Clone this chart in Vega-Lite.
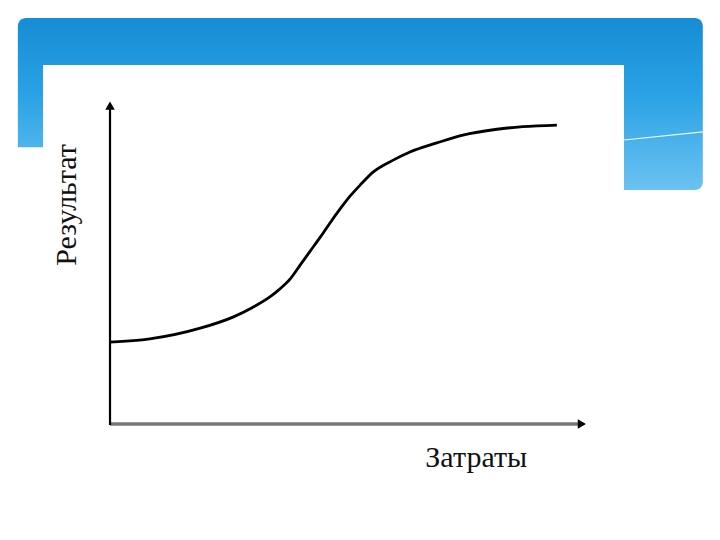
{
  "$schema": "https://vega.github.io/schema/vega-lite/v6.json",
  "width": 720,
  "height": 540,
  "padding": 0,
  "autosize": {"type": "fit", "contains": "padding"},
  "background": "white",
  "config": {"view": {"stroke": null}},
  "datasets": {
    "curve": [
      {"zatraty": 0, "rezultat": 25.5},
      {"zatraty": 8.3, "rezultat": 26.5},
      {"zatraty": 18.8, "rezultat": 29.8},
      {"zatraty": 25.6, "rezultat": 33.2},
      {"zatraty": 29.6, "rezultat": 36.1},
      {"zatraty": 33.3, "rezultat": 39.4},
      {"zatraty": 35.4, "rezultat": 41.9},
      {"zatraty": 37.5, "rezultat": 44.9},
      {"zatraty": 39.6, "rezultat": 49.2},
      {"zatraty": 41.7, "rezultat": 53.5},
      {"zatraty": 43.8, "rezultat": 57.8},
      {"zatraty": 45.8, "rezultat": 62.1},
      {"zatraty": 47.9, "rezultat": 66.4},
      {"zatraty": 50.0, "rezultat": 70.4},
      {"zatraty": 52.1, "rezultat": 73.8},
      {"zatraty": 54.8, "rezultat": 77.8},
      {"zatraty": 59.0, "rezultat": 81.5},
      {"zatraty": 62.5, "rezultat": 84.0},
      {"zatraty": 68.1, "rezultat": 86.8},
      {"zatraty": 73.5, "rezultat": 89.2},
      {"zatraty": 80.6, "rezultat": 91.0},
      {"zatraty": 86.0, "rezultat": 91.8},
      {"zatraty": 93.1, "rezultat": 92.3}
    ],
    "one": [{}]
  },
  "layer": [
    {
      "data": {"name": "one"},
      "mark": {"type": "rect", "cornerRadius": 8, "color": {"gradient": "linear", "x1": 0, "y1": 0, "x2": 0, "y2": 1, "stops": [{"offset": 0, "color": "#168dd4"}, {"offset": 0.45, "color": "#2aa2e5"}, {"offset": 1, "color": "#6cc2f1"}]}},
      "encoding": {
        "x": {"datum": -19.2, "type": "quantitative", "scale": {"domain": [-22.92, 127.08], "nice": false, "zero": false}, "axis": null},
        "x2": {"datum": 123.5},
        "y": {"datum": 125.2, "type": "quantitative", "scale": {"domain": [-35.38, 130.77], "nice": false, "zero": false}, "axis": null},
        "y2": {"datum": 72.3}
      }
    },
    {
      "data": {"name": "one"},
      "mark": {"type": "rule", "color": "white", "strokeWidth": 1.2, "opacity": 0.9},
      "encoding": {
        "x": {"datum": 107.1, "type": "quantitative", "scale": {"domain": [-22.92, 127.08], "nice": false, "zero": false}, "axis": null},
        "x2": {"datum": 123.5},
        "y": {"datum": 87.7, "type": "quantitative", "scale": {"domain": [-35.38, 130.77], "nice": false, "zero": false}, "axis": null},
        "y2": {"datum": 90.2}
      }
    },
    {
      "data": {"name": "one"},
      "mark": {"type": "rect", "color": "white"},
      "encoding": {
        "x": {"datum": -13.96, "type": "quantitative", "scale": {"domain": [-22.92, 127.08], "nice": false, "zero": false}, "axis": null},
        "x2": {"datum": 107.08},
        "y": {"datum": 110.77, "type": "quantitative", "scale": {"domain": [-35.38, 130.77], "nice": false, "zero": false}, "axis": null},
        "y2": {"datum": -35.38}
      }
    },
    {
      "data": {"name": "one"},
      "mark": {"type": "rect", "color": "white"},
      "encoding": {
        "x": {"datum": -22.92, "type": "quantitative", "scale": {"domain": [-22.92, 127.08], "nice": false, "zero": false}, "axis": null},
        "x2": {"datum": -13.96},
        "y": {"datum": 85.5, "type": "quantitative", "scale": {"domain": [-35.38, 130.77], "nice": false, "zero": false}, "axis": null},
        "y2": {"datum": 70}
      }
    },
    {
      "data": {"name": "one"},
      "mark": {"type": "rule", "color": "#777777", "strokeWidth": 3.5},
      "encoding": {
        "x": {"datum": 0, "type": "quantitative", "scale": {"domain": [-22.92, 127.08], "nice": false, "zero": false}, "axis": null},
        "x2": {"datum": 98.5},
        "y": {"datum": 0.3, "type": "quantitative", "scale": {"domain": [-35.38, 130.77], "nice": false, "zero": false}, "axis": null}
      }
    },
    {
      "data": {"name": "one"},
      "mark": {"type": "rule", "color": "black", "strokeWidth": 2.2},
      "encoding": {
        "x": {"datum": 0, "type": "quantitative", "scale": {"domain": [-22.92, 127.08], "nice": false, "zero": false}, "axis": null},
        "y": {"datum": 0, "type": "quantitative", "scale": {"domain": [-35.38, 130.77], "nice": false, "zero": false}, "axis": null},
        "y2": {"datum": 98}
      }
    },
    {
      "data": {"name": "one"},
      "mark": {"type": "point", "shape": "triangle-up", "filled": true, "color": "black", "size": 90, "opacity": 1},
      "encoding": {
        "x": {"datum": 0, "type": "quantitative", "scale": {"domain": [-22.92, 127.08], "nice": false, "zero": false}, "axis": null},
        "y": {"datum": 98.3, "type": "quantitative", "scale": {"domain": [-35.38, 130.77], "nice": false, "zero": false}, "axis": null}
      }
    },
    {
      "data": {"name": "one"},
      "mark": {"type": "point", "shape": "triangle-right", "filled": true, "color": "black", "size": 90, "opacity": 1},
      "encoding": {
        "x": {"datum": 98.3, "type": "quantitative", "scale": {"domain": [-22.92, 127.08], "nice": false, "zero": false}, "axis": null},
        "y": {"datum": 0.3, "type": "quantitative", "scale": {"domain": [-35.38, 130.77], "nice": false, "zero": false}, "axis": null}
      }
    },
    {
      "data": {"name": "curve"},
      "mark": {"type": "line", "color": "black", "strokeWidth": 2.8, "interpolate": "monotone"},
      "encoding": {
        "x": {"field": "zatraty", "type": "quantitative", "scale": {"domain": [-22.92, 127.08], "nice": false, "zero": false}, "axis": null},
        "y": {"field": "rezultat", "type": "quantitative", "scale": {"domain": [-35.38, 130.77], "nice": false, "zero": false}, "axis": null}
      }
    },
    {
      "data": {"name": "one"},
      "mark": {"type": "text", "text": "Результат", "angle": 270, "align": "center", "baseline": "middle", "font": "Liberation Serif", "fontSize": 30, "color": "#111111"},
      "encoding": {
        "x": {"datum": -9.0, "type": "quantitative", "scale": {"domain": [-22.92, 127.08], "nice": false, "zero": false}, "axis": null},
        "y": {"datum": 67.7, "type": "quantitative", "scale": {"domain": [-35.38, 130.77], "nice": false, "zero": false}, "axis": null}
      }
    },
    {
      "data": {"name": "one"},
      "mark": {"type": "text", "text": "Затраты", "align": "center", "baseline": "middle", "font": "Liberation Serif", "fontSize": 30, "color": "#111111"},
      "encoding": {
        "x": {"datum": 76.3, "type": "quantitative", "scale": {"domain": [-22.92, 127.08], "nice": false, "zero": false}, "axis": null},
        "y": {"datum": -10.2, "type": "quantitative", "scale": {"domain": [-35.38, 130.77], "nice": false, "zero": false}, "axis": null}
      }
    }
  ]
}
